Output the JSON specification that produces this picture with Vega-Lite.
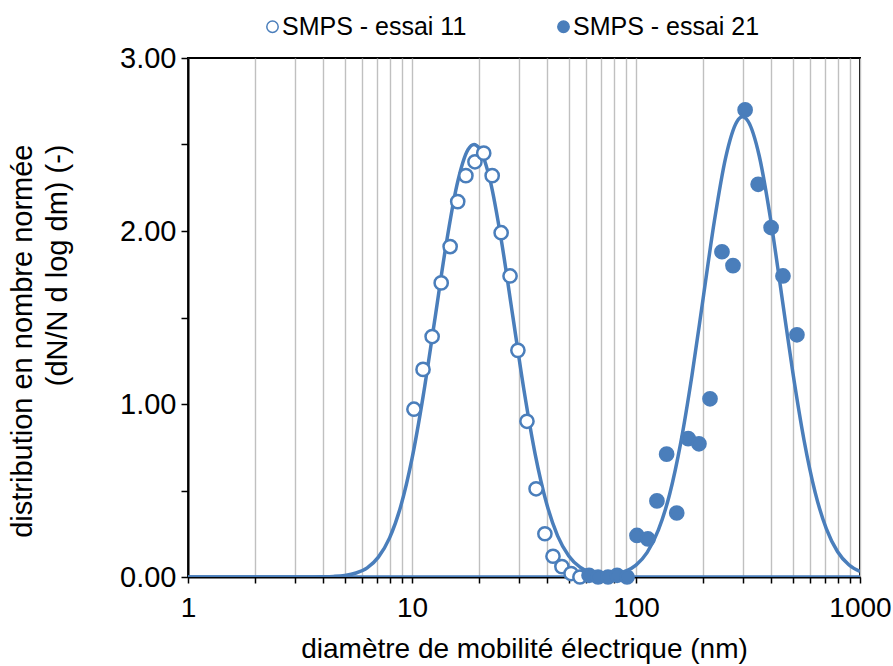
{
  "$schema": "https://vega.github.io/schema/vega-lite/v6.json",
  "width": 672,
  "height": 519,
  "autosize": {"type": "none"},
  "padding": {"left": 188, "top": 58, "right": 33, "bottom": 89},
  "background": "white",
  "config": {
    "font": "Liberation Sans",
    "view": {"stroke": "black", "strokeWidth": 2},
    "axis": {"labelFont": "Liberation Sans", "titleFont": "Liberation Sans", "labelColor": "black", "titleColor": "black", "titleFontWeight": "normal"}
  },
  "datasets": {
    "curves": [
      {"curve": "c1", "d": 1, "v": 0},
      {"curve": "c1", "d": 3.162, "v": 0},
      {"curve": "c1", "d": 3.548, "v": 0.0003},
      {"curve": "c1", "d": 3.981, "v": 0.0011},
      {"curve": "c1", "d": 4.467, "v": 0.0033},
      {"curve": "c1", "d": 5.012, "v": 0.009},
      {"curve": "c1", "d": 5.623, "v": 0.023},
      {"curve": "c1", "d": 6.310, "v": 0.053},
      {"curve": "c1", "d": 7.079, "v": 0.115},
      {"curve": "c1", "d": 7.943, "v": 0.226},
      {"curve": "c1", "d": 8.913, "v": 0.41},
      {"curve": "c1", "d": 10.0, "v": 0.684},
      {"curve": "c1", "d": 11.22, "v": 1.047},
      {"curve": "c1", "d": 12.59, "v": 1.472},
      {"curve": "c1", "d": 14.13, "v": 1.904},
      {"curve": "c1", "d": 15.85, "v": 2.262},
      {"curve": "c1", "d": 17.78, "v": 2.47},
      {"curve": "c1", "d": 18.92, "v": 2.5},
      {"curve": "c1", "d": 19.95, "v": 2.478},
      {"curve": "c1", "d": 22.39, "v": 2.285},
      {"curve": "c1", "d": 25.12, "v": 1.936},
      {"curve": "c1", "d": 28.18, "v": 1.508},
      {"curve": "c1", "d": 31.62, "v": 1.079},
      {"curve": "c1", "d": 35.48, "v": 0.709},
      {"curve": "c1", "d": 39.81, "v": 0.429},
      {"curve": "c1", "d": 44.67, "v": 0.238},
      {"curve": "c1", "d": 50.12, "v": 0.122},
      {"curve": "c1", "d": 56.23, "v": 0.057},
      {"curve": "c1", "d": 63.10, "v": 0.025},
      {"curve": "c1", "d": 70.79, "v": 0.010},
      {"curve": "c1", "d": 79.43, "v": 0.004},
      {"curve": "c1", "d": 89.13, "v": 0.001},
      {"curve": "c1", "d": 100, "v": 0},
      {"curve": "c1", "d": 1000, "v": 0},
      {"curve": "c2", "d": 1, "v": 0},
      {"curve": "c2", "d": 44.67, "v": 0},
      {"curve": "c2", "d": 50.12, "v": 0.0002},
      {"curve": "c2", "d": 56.23, "v": 0.0005},
      {"curve": "c2", "d": 63.10, "v": 0.0017},
      {"curve": "c2", "d": 70.79, "v": 0.0048},
      {"curve": "c2", "d": 79.43, "v": 0.0126},
      {"curve": "c2", "d": 89.13, "v": 0.0306},
      {"curve": "c2", "d": 100, "v": 0.0686},
      {"curve": "c2", "d": 112.2, "v": 0.142},
      {"curve": "c2", "d": 125.9, "v": 0.272},
      {"curve": "c2", "d": 141.3, "v": 0.478},
      {"curve": "c2", "d": 158.5, "v": 0.778},
      {"curve": "c2", "d": 177.8, "v": 1.166},
      {"curve": "c2", "d": 199.5, "v": 1.613},
      {"curve": "c2", "d": 223.9, "v": 2.059},
      {"curve": "c2", "d": 251.2, "v": 2.423},
      {"curve": "c2", "d": 281.8, "v": 2.631},
      {"curve": "c2", "d": 299.2, "v": 2.66},
      {"curve": "c2", "d": 316.2, "v": 2.635},
      {"curve": "c2", "d": 354.8, "v": 2.435},
      {"curve": "c2", "d": 398.1, "v": 2.075},
      {"curve": "c2", "d": 446.7, "v": 1.632},
      {"curve": "c2", "d": 501.2, "v": 1.183},
      {"curve": "c2", "d": 562.3, "v": 0.792},
      {"curve": "c2", "d": 631.0, "v": 0.488},
      {"curve": "c2", "d": 707.9, "v": 0.278},
      {"curve": "c2", "d": 794.3, "v": 0.146},
      {"curve": "c2", "d": 891.3, "v": 0.071},
      {"curve": "c2", "d": 1000, "v": 0.032}
    ],
    "points": [
      {"series": "SMPS - essai 11", "d": 10.2, "v": 0.97},
      {"series": "SMPS - essai 11", "d": 11.2, "v": 1.20},
      {"series": "SMPS - essai 11", "d": 12.3, "v": 1.39},
      {"series": "SMPS - essai 11", "d": 13.5, "v": 1.70},
      {"series": "SMPS - essai 11", "d": 14.8, "v": 1.91},
      {"series": "SMPS - essai 11", "d": 16.0, "v": 2.17},
      {"series": "SMPS - essai 11", "d": 17.4, "v": 2.32},
      {"series": "SMPS - essai 11", "d": 19.1, "v": 2.40},
      {"series": "SMPS - essai 11", "d": 20.9, "v": 2.45},
      {"series": "SMPS - essai 11", "d": 22.8, "v": 2.32},
      {"series": "SMPS - essai 11", "d": 25.0, "v": 1.99},
      {"series": "SMPS - essai 11", "d": 27.4, "v": 1.74},
      {"series": "SMPS - essai 11", "d": 29.7, "v": 1.31},
      {"series": "SMPS - essai 11", "d": 32.6, "v": 0.90},
      {"series": "SMPS - essai 11", "d": 35.8, "v": 0.51},
      {"series": "SMPS - essai 11", "d": 39.2, "v": 0.25},
      {"series": "SMPS - essai 11", "d": 42.6, "v": 0.12},
      {"series": "SMPS - essai 11", "d": 46.7, "v": 0.06},
      {"series": "SMPS - essai 11", "d": 51.3, "v": 0.02},
      {"series": "SMPS - essai 11", "d": 56.2, "v": 0.0},
      {"series": "SMPS - essai 21", "d": 61.7, "v": 0.01},
      {"series": "SMPS - essai 21", "d": 67.7, "v": 0.0},
      {"series": "SMPS - essai 21", "d": 75.0, "v": 0.0},
      {"series": "SMPS - essai 21", "d": 82.3, "v": 0.01},
      {"series": "SMPS - essai 21", "d": 91.2, "v": 0.0},
      {"series": "SMPS - essai 21", "d": 101, "v": 0.24},
      {"series": "SMPS - essai 21", "d": 113, "v": 0.22},
      {"series": "SMPS - essai 21", "d": 124, "v": 0.44},
      {"series": "SMPS - essai 21", "d": 137, "v": 0.71},
      {"series": "SMPS - essai 21", "d": 152, "v": 0.37},
      {"series": "SMPS - essai 21", "d": 171, "v": 0.80},
      {"series": "SMPS - essai 21", "d": 191, "v": 0.77},
      {"series": "SMPS - essai 21", "d": 214, "v": 1.03},
      {"series": "SMPS - essai 21", "d": 242, "v": 1.88},
      {"series": "SMPS - essai 21", "d": 271, "v": 1.80},
      {"series": "SMPS - essai 21", "d": 307, "v": 2.70},
      {"series": "SMPS - essai 21", "d": 351, "v": 2.27},
      {"series": "SMPS - essai 21", "d": 401, "v": 2.02},
      {"series": "SMPS - essai 21", "d": 453, "v": 1.74},
      {"series": "SMPS - essai 21", "d": 523, "v": 1.40}
    ]
  },
  "encoding": {
    "x": {
      "field": "d", "type": "quantitative",
      "scale": {"type": "log", "domain": [1, 1000], "nice": false},
      "axis": {
        "title": "diamètre de mobilité électrique (nm)",
        "values": [1,2,3,4,5,6,7,8,9,10,20,30,40,50,60,70,80,90,100,200,300,400,500,600,700,800,900,1000],
        "labelExpr": "(datum.value == 1 || datum.value == 10 || datum.value == 100 || datum.value == 1000) ? format(datum.value, 'd') : ''",
        "labelOverlap": false,
        "labelFlush": false,
        "labelFontSize": 28,
        "labelPadding": 11,
        "titleFontSize": 28,
        "titlePadding": 13,
        "grid": true,
        "gridColor": "#c0c0c0",
        "gridWidth": 1.4,
        "domainColor": "black",
        "domainWidth": 2,
        "tickColor": "black",
        "tickWidth": 1.5,
        "tickSize": 6
      }
    },
    "y": {
      "field": "v", "type": "quantitative",
      "scale": {"domain": [0, 3], "nice": false},
      "axis": {
        "title": ["distribution en nombre normée", "(dN/N d log dm) (-)"],
        "values": [0, 0.5, 1, 1.5, 2, 2.5, 3],
        "labelExpr": "datum.value % 1 == 0 ? format(datum.value, '.2f') : ''",
        "labelFontSize": 29,
        "labelPadding": 5,
        "titleFontSize": 29,
        "titleLineHeight": 35,
        "titleX": -151,
        "titleY": 86,
        "titleAngle": -90,
        "titleAlign": "right",
        "titleBaseline": "bottom",
        "grid": false,
        "domainColor": "black",
        "domainWidth": 2,
        "tickColor": "black",
        "tickWidth": 1.5,
        "tickSize": 7
      }
    }
  },
  "layer": [
    {
      "data": {"name": "curves"},
      "mark": {"type": "line", "interpolate": "monotone", "color": "#4a7ebb", "strokeWidth": 3.5, "clip": true},
      "encoding": {"detail": {"field": "curve"}}
    },
    {
      "data": {"name": "points"},
      "mark": {"type": "point", "shape": "circle", "filled": false, "stroke": "#4a7ebb", "strokeWidth": 2.5, "size": 175, "opacity": 1},
      "encoding": {
        "fill": {
          "field": "series", "type": "nominal",
          "scale": {"domain": ["SMPS - essai 11", "SMPS - essai 21"], "range": ["white", "#4a7ebb"]},
          "legend": {
            "title": null,
            "orient": "none",
            "direction": "horizontal",
            "legendX": 72,
            "legendY": -44,
            "labelFontSize": 25,
            "labelFont": "Liberation Sans",
            "labelColor": "black",
            "symbolType": "circle",
            "symbolSize": 130,
            "symbolStrokeColor": "#4a7ebb",
            "symbolStrokeWidth": 1.5,
            "labelOffset": -3,
            "columnPadding": 84,
            "labelLimit": 400
          }
        }
      }
    }
  ]
}
